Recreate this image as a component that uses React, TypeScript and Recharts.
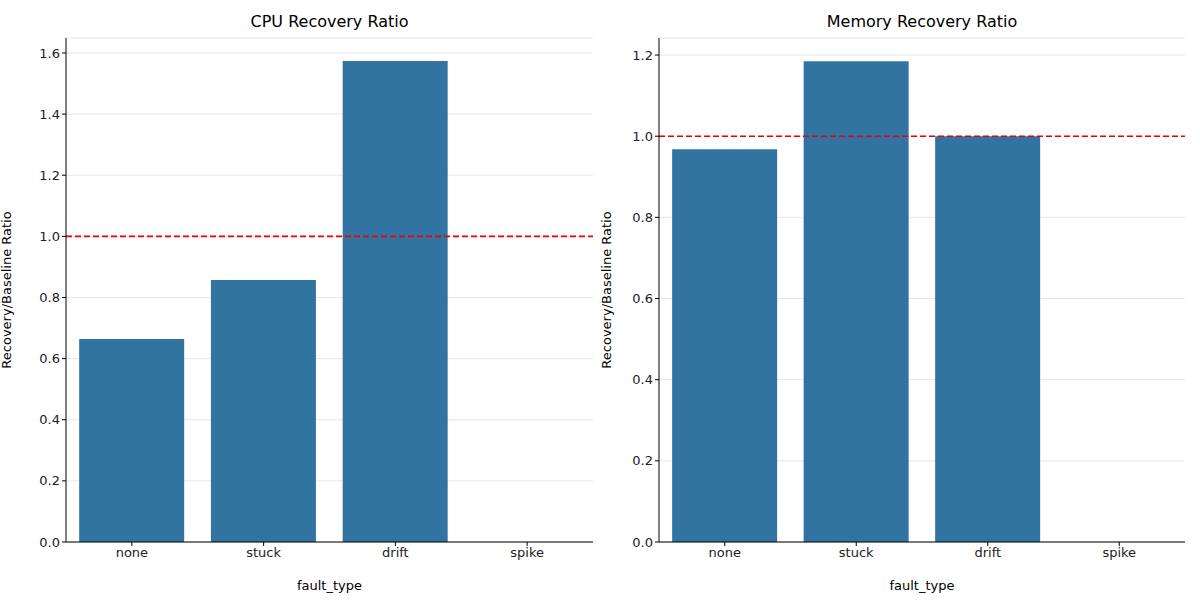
import React from "react";
import { BarChart, Bar, XAxis, YAxis, CartesianGrid, ReferenceLine } from "recharts";

const categories = ["none", "stuck", "drift", "spike"];
const cpuValues: (number | null)[] = [0.664, 0.857, 1.574, null];
const memValues: (number | null)[] = [0.968, 1.185, 1.0, null];
const cpuTicks = [0, 0.2, 0.4, 0.6, 0.8, 1.0, 1.2, 1.4, 1.6];
const memTicks = [0, 0.2, 0.4, 0.6, 0.8, 1.0, 1.2];

const font = "DejaVu Sans, sans-serif";
const tickStyle = { fill: "#222", fontSize: 13, fontFamily: font };

function Panel(props: {
  left: number; title: string; values: (number | null)[]; ticks: number[];
  max: number; yWidth: number; rightMargin: number;
}) {
  const data = categories.map((c, i) => ({ name: c, value: props.values[i] }));
  return (
    <div style={{ position: "absolute", left: props.left, top: 0, width: 600, height: 600 }}>
      <div style={{ position: "absolute", top: 12, left: props.yWidth, width: 600 - props.yWidth - props.rightMargin,
        textAlign: "center", fontFamily: font, fontSize: 16, color: "#000" }}>{props.title}</div>
      <BarChart width={600} height={600} data={data} barCategoryGap="10%"
        margin={{ top: 38, right: props.rightMargin, bottom: 0, left: 0 }}>
        <CartesianGrid vertical={false} stroke="#e6e6e6" />
        <XAxis dataKey="name" height={58} stroke="#000" tick={tickStyle} tickSize={4}
          label={{ value: "fault_type", position: "insideBottom", offset: 10, style: { fill: "#000", fontSize: 13, fontFamily: font } }} />
        <XAxis xAxisId="top" dataKey="name" orientation="top" height={0} tick={false} tickLine={false} stroke="#000" />
        <YAxis width={props.yWidth} domain={[0, props.max]} ticks={props.ticks} stroke="#000" tickSize={4}
          tick={tickStyle} tickFormatter={(v: number) => v.toFixed(1)} allowDataOverflow
          label={{ value: "Recovery/Baseline Ratio", angle: -90, position: "insideLeft", offset: 6,
            style: { textAnchor: "middle", fill: "#000", fontSize: 13, fontFamily: font } }} />
        <YAxis yAxisId="r" orientation="right" width={0} tick={false} tickLine={false} stroke="#000" domain={[0, props.max]} />
        <Bar dataKey="value" fill="#3274a1" isAnimationActive={false} />
        <ReferenceLine y={1} stroke="#e8000b" strokeDasharray="6 3" strokeWidth={1.6} />
      </BarChart>
    </div>
  );
}

export default function App() {
  return (
    <div style={{ position: "fixed", left: 0, top: 0, width: 1200, height: 600, background: "#fff" }}>
      <Panel left={0} title="CPU Recovery Ratio" values={cpuValues} ticks={cpuTicks} max={1.649} yWidth={66} rightMargin={7} />
      <Panel left={600} title="Memory Recovery Ratio" values={memValues} ticks={memTicks} max={1.242} yWidth={59} rightMargin={15} />
    </div>
  );
}
